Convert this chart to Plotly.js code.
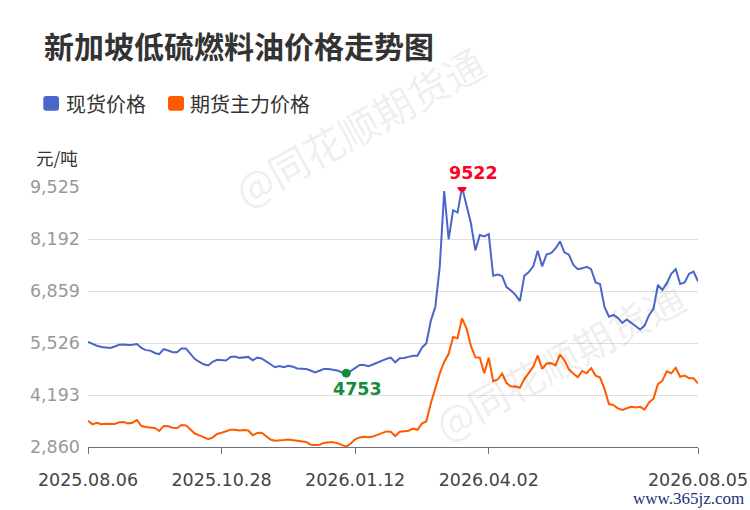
<!DOCTYPE html>
<html>
<head>
<meta charset="utf-8">
<script src="https://cdn.plot.ly/plotly-3.0.1.min.js"></script>
<style>html,body{margin:0;padding:0;background:#fff;}#chart{width:750px;height:510px;}</style>
</head>
<body>
<div id="chart"></div>
<script>
// ---- data ----
const tickLabels = ['2025.08.06','2025.10.28','2026.01.12','2026.04.02','2026.08.05'];
const tickIndex = [0, 30, 60, 90, 137];
const yTicks = [2860, 4193, 5526, 6859, 8192, 9525];

const spot = [
5552,5500,5455,5425,5412,5400,5435,5480,5490,5475,
5482,5500,5400,5343,5331,5270,5240,5370,5335,5290,
5290,5385,5385,5255,5115,5040,4980,4950,5045,5095,
5090,5075,5170,5180,5145,5156,5170,5080,5150,5130,
5050,4965,4905,4935,4905,4940,4920,4875,4858,4860,
4820,4770,4815,4862,4858,4845,4820,4778,4753,4805,
4890,4962,4962,4930,4975,5025,5065,5120,5150,5030,
5135,5140,5170,5200,5200,5405,5520,6100,6450,7480,
9420,8180,8930,8870,9522,9089,8594,7900,8295,8260,
8320,7250,7280,7240,6960,6870,6760,6600,7250,7345,
7490,7890,7490,7800,7830,7950,8130,7850,7790,7525,
7420,7440,7480,7420,7080,7040,6450,6200,6245,6170,
6040,6130,6050,5960,5870,5970,6240,6400,7015,6880,
7060,7300,7420,7040,7080,7300,7355,7110
];

const futures = [
3534,3440,3480,3445,3455,3450,3450,3495,3500,3466,
3483,3552,3398,3375,3355,3347,3270,3400,3390,3355,
3345,3425,3415,3300,3205,3160,3110,3060,3100,3195,
3227,3262,3300,3300,3282,3294,3283,3160,3220,3227,
3130,3050,3022,3039,3039,3050,3035,3010,2997,2990,
2920,2910,2920,2965,2980,2980,2960,2920,2870,2950,
3057,3105,3120,3110,3130,3170,3210,3260,3250,3140,
3252,3270,3279,3330,3300,3460,3520,3980,4350,4748,
5040,5250,5680,5650,6159,5900,5450,5160,5150,4750,
5150,4550,4590,4740,4500,4410,4410,4380,4600,4760,
4920,5200,4860,5000,5010,4950,5230,5080,4850,4745,
4650,4810,4750,4880,4690,4640,4350,3960,3935,3850,
3810,3852,3890,3875,3890,3820,4000,4100,4470,4560,
4800,4750,4890,4660,4690,4620,4620,4490
];

const names = ['现货价格', '期货主力价格'];
const colors = ['#4a66c9', '#ff5a00'];

// ---- build ----
const idx = spot.map((_, i) => i);
const maxVal = Math.max(...spot), maxIdx = spot.indexOf(maxVal);
const minVal = Math.min(...spot), minIdx = spot.indexOf(minVal);

const L = 88, R = 698, T = 187, B = 447;
const px = p => (p - L) / (R - L);
const py = p => (B - p) / (B - T);
function roundRect(x0, y0, x1, y1, r) {
  const P = (x, y) => px(x) + ',' + py(y);
  return 'M' + P(x0 + r, y0) + ' L' + P(x1 - r, y0) + ' Q' + P(x1, y0) + ' ' + P(x1, y0 + r) +
    ' L' + P(x1, y1 - r) + ' Q' + P(x1, y1) + ' ' + P(x1 - r, y1) +
    ' L' + P(x0 + r, y1) + ' Q' + P(x0, y1) + ' ' + P(x0, y1 - r) +
    ' L' + P(x0, y0 + r) + ' Q' + P(x0, y0) + ' ' + P(x0 + r, y0) + ' Z';
}

const FONT = 'DejaVu Sans, Noto Sans CJK SC, sans-serif';
const CJK = 'Noto Sans CJK SC, DejaVu Sans, sans-serif';

const traces = [
  {x: idx, y: futures, type: 'scatter', mode: 'lines', name: names[1],
   line: {color: colors[1], width: 2}, hoverinfo: 'skip', showlegend: false},
  {x: idx, y: spot, type: 'scatter', mode: 'lines', name: names[0],
   line: {color: colors[0], width: 2}, hoverinfo: 'skip', showlegend: false},
  {x: [maxIdx], y: [maxVal], type: 'scatter', mode: 'markers',
   marker: {color: '#ff0022', size: 9}, showlegend: false, hoverinfo: 'skip'},
  {x: [minIdx], y: [minVal], type: 'scatter', mode: 'markers',
   marker: {color: '#168c3c', size: 9}, showlegend: false, hoverinfo: 'skip'}
];

const wm = (cx, cy) => ({
  xref: 'paper', yref: 'paper', x: px(cx), y: py(cy), xanchor: 'center', yanchor: 'middle',
  text: '@同花顺期货通', showarrow: false, textangle: -29,
  font: {family: CJK, size: 40, color: 'rgba(0,0,0,0.085)'}
});

const layout = {
  width: 750, height: 510,
  margin: {l: L, r: 750 - R, t: T, b: 510 - B, pad: 0},
  paper_bgcolor: '#fff', plot_bgcolor: '#fff',
  showlegend: false,
  title: {text: '新加坡低硫燃料油价格走势图', x: 44 / 750, xanchor: 'left', xref: 'container',
          y: 1 - 47.5 / 510, yanchor: 'middle', yref: 'container',
          font: {family: CJK, size: 30, color: '#333', weight: 'bold'}},
  xaxis: {
    range: [0, spot.length - 1], tickmode: 'array', tickvals: tickIndex, ticktext: tickLabels,
    showgrid: false, zeroline: false, showline: true, linecolor: '#6e7079', linewidth: 1,
    ticks: 'outside', ticklen: 6, tickcolor: '#6e7079', ticklabelstandoff: 11,
    tickfont: {family: FONT, size: 17.5, color: '#444'}, fixedrange: true
  },
  yaxis: {
    range: [yTicks[0], yTicks[yTicks.length - 1]], tickmode: 'array', tickvals: yTicks,
    tickformat: ',d', showgrid: true, gridcolor: '#e0e0e0', gridwidth: 1, zeroline: false,
    showline: false, ticks: '', ticklabelstandoff: 7,
    tickfont: {family: FONT, size: 17.5, color: '#999'}, fixedrange: true
  },
  shapes: [
    {type: 'path', xref: 'paper', yref: 'paper', path: roundRect(43.3, 96, 59, 110.7, 3),
     fillcolor: colors[0], line: {width: 0}},
    {type: 'path', xref: 'paper', yref: 'paper', path: roundRect(168, 96, 184, 110.7, 3),
     fillcolor: colors[1], line: {width: 0}}
  ],
  annotations: [
    wm(359, 126), wm(559, 360),
    {xref: 'paper', yref: 'paper', x: px(64), y: py(103), xanchor: 'left', yanchor: 'middle',
     text: names[0], showarrow: false, font: {family: CJK, size: 20, color: '#333'}},
    {xref: 'paper', yref: 'paper', x: px(188), y: py(103), xanchor: 'left', yanchor: 'middle',
     text: names[1], showarrow: false, font: {family: CJK, size: 20, color: '#333'}},
    {xref: 'paper', yref: 'paper', x: px(79.5), y: py(157), xanchor: 'right', yanchor: 'middle',
     text: '元/吨', showarrow: false, font: {family: CJK, size: 17.5, color: '#333'}},
    {xref: 'x', yref: 'y', x: maxIdx, y: maxVal, text: '<b>' + maxVal + '</b>', showarrow: false,
     xshift: 11, yshift: 14.5, xanchor: 'center', yanchor: 'middle',
     font: {family: FONT, size: 17.5, color: '#ff0022'}},
    {xref: 'x', yref: 'y', x: minIdx, y: minVal, text: '<b>' + minVal + '</b>', showarrow: false,
     xshift: 11, yshift: -16, xanchor: 'center', yanchor: 'middle',
     font: {family: FONT, size: 17.5, color: '#168c3c'}},
    {xref: 'paper', yref: 'paper', x: px(746), y: py(498), xanchor: 'right', yanchor: 'middle',
     text: 'www.365jz.com', showarrow: false,
     font: {family: 'Liberation Serif, serif', size: 17, color: '#1a3278'}}
  ]
};

Plotly.newPlot('chart', traces, layout, {displayModeBar: false, staticPlot: true});
</script>
</body>
</html>
